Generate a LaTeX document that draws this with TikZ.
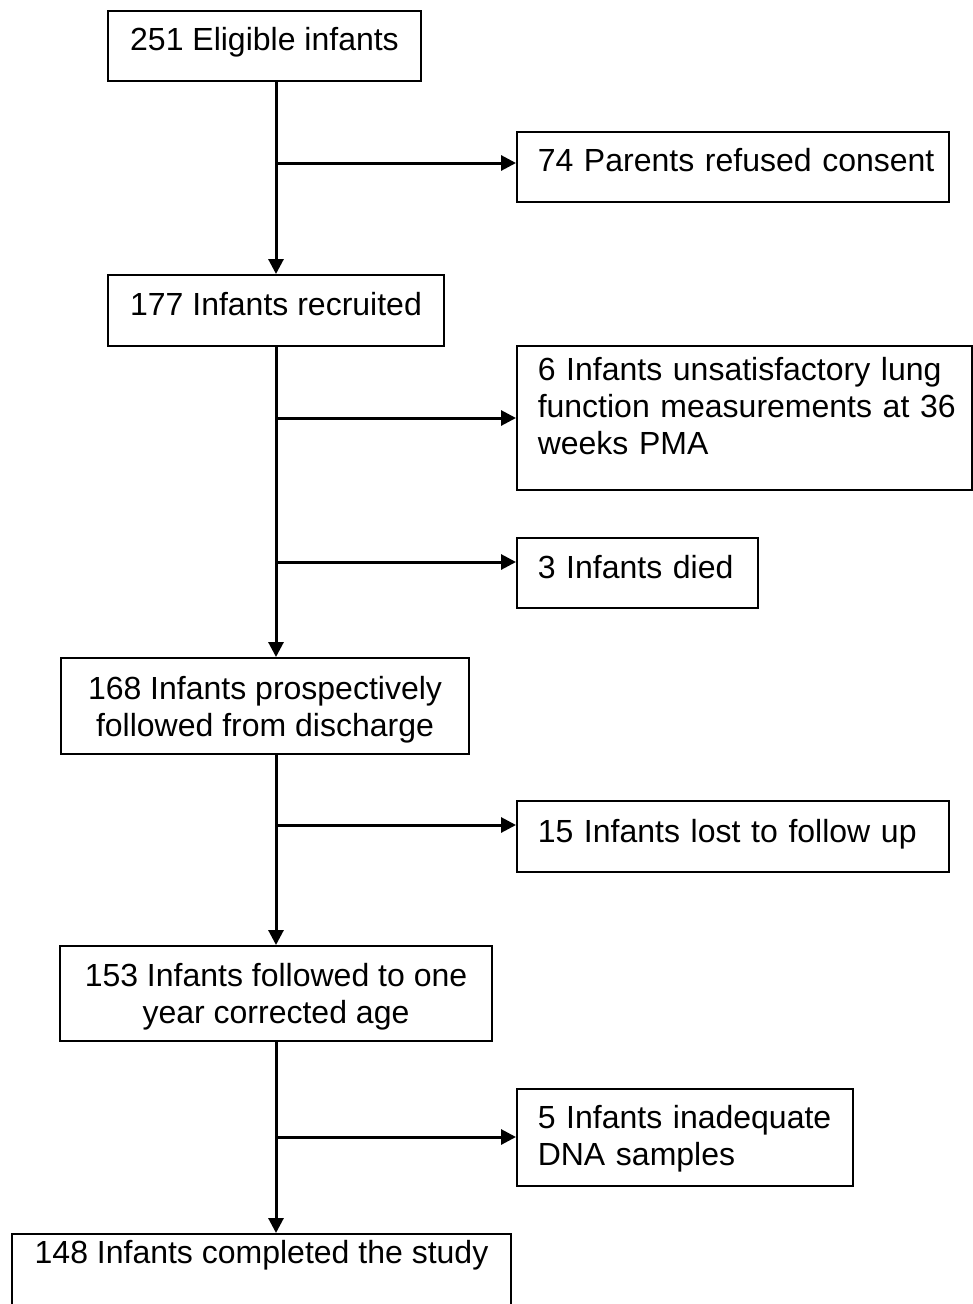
\documentclass[tikz,border=0pt]{standalone}
\usepackage{fontspec}
\setmainfont{Liberation Sans}
\usetikzlibrary{arrows.meta}
\tikzset{
  chart/.style={x=1pt, y=-1pt, font=\fontsize{32}{37}\selectfont},
  mainbox/.style={draw=black, line width=1.5pt, align=center, inner xsep=0pt, inner ysep=0pt, anchor=north},
  sidebox/.style={draw=black, line width=1.5pt, align=left, inner xsep=21pt, inner ysep=0pt, anchor=north west},
  flow/.style={black, line width=3pt, -{Triangle[length=15pt,width=15pt]}},
}
\begin{document}
\begin{tikzpicture}[chart]
  \useasboundingbox (0,0) rectangle (972,1304);
  % main column
  \node[mainbox, minimum width=313pt, text height=40pt, text depth=30pt] (elig) at (264.5,10) {251 Eligible infants};
  \node[mainbox, minimum width=336pt, text height=41pt, text depth=30pt] (recr) at (276,274) {177 Infants recruited};
  \node[mainbox, minimum width=408pt, text height=79pt, text depth=17pt] (disch) at (265,657) {168 Infants prospectively\\followed from discharge};
  \node[mainbox, minimum width=432pt, text height=78pt, text depth=17pt] (year) at (276,945) {153 Infants followed to one\\year corrected age};
  \node[mainbox, minimum width=499pt, text height=30pt, text depth=50pt] (done) at (261.5,1233) {148 Infants completed the study};
  % exclusions (one \mbox per printed line)
  \node[sidebox, text width=390pt, text height=40pt, text depth=30pt] (refus) at (516,131) {\mbox{74 Parents refused consent}};
  \node[sidebox, text width=413pt, text height=35pt, text depth=109pt] (lung) at (516,345) {\mbox{6 Infants unsatisfactory lung}\\\mbox{function measurements at 36}\\\mbox{weeks PMA}};
  \node[sidebox, text width=199pt, text height=41pt, text depth=29pt] (died) at (516,537) {\mbox{3 Infants died}};
  \node[sidebox, text width=390pt, text height=42pt, text depth=29pt] (lost) at (516,800) {\mbox{15 Infants lost to follow up}};
  \node[sidebox, text width=294pt, text height=40pt, text depth=57pt] (dna) at (516,1088) {\mbox{5 Infants inadequate}\\\mbox{DNA samples}};
  % branch points on the spine
  \coordinate (j1) at (276,163);
  \coordinate (j2) at (276,418);
  \coordinate (j3) at (276,562);
  \coordinate (j4) at (276,825);
  \coordinate (j5) at (276,1137);
  \draw[flow] (j1 |- elig.south) -- (j1 |- recr.north);
  \draw[flow] (j2 |- recr.south) -- (j2 |- disch.north);
  \draw[flow] (j4 |- disch.south) -- (j4 |- year.north);
  \draw[flow] (j5 |- year.south) -- (j5 |- done.north);
  \draw[flow] (j1) -- (j1 -| refus.west);
  \draw[flow] (j2) -- (j2 -| lung.west);
  \draw[flow] (j3) -- (j3 -| died.west);
  \draw[flow] (j4) -- (j4 -| lost.west);
  \draw[flow] (j5) -- (j5 -| dna.west);
\end{tikzpicture}
\end{document}
